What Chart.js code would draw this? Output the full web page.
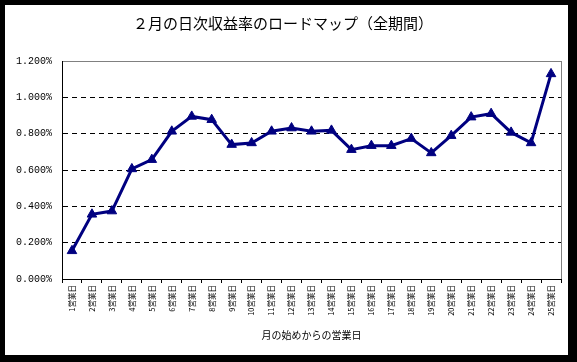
<!DOCTYPE html>
<html>
<head>
<meta charset="utf-8">
<script src="https://cdn.jsdelivr.net/npm/chart.js@4/dist/chart.umd.min.js"></script>
<style>
  html, body { margin: 0; padding: 0; background: #000; }
  canvas { display: block; }
</style>
</head>
<body>
<canvas id="chart" width="577" height="362"></canvas>
<script>
// 2月の日次収益率 (%), 営業日ごと
const DAYS = [
  '1営業日', '2営業日', '3営業日', '4営業日', '5営業日', '6営業日', '7営業日',
  '8営業日', '9営業日', '10営業日', '11営業日', '12営業日', '13営業日', '14営業日',
  '15営業日', '16営業日', '17営業日', '18営業日', '19営業日', '20営業日', '21営業日',
  '22営業日', '23営業日', '24営業日', '25営業日',
];
const RETURNS = [
  0.155, 0.356, 0.374, 0.606, 0.657, 0.813, 0.895, 0.877, 0.740, 0.749,
  0.813, 0.831, 0.813, 0.818, 0.712, 0.734, 0.734, 0.773, 0.694, 0.789,
  0.891, 0.910, 0.807, 0.749, 1.129,
];
const Y_MIN = 0;
const Y_MAX = 1.2;
const Y_STEP = 0.2;

const NAVY = '#000080';
const CJK = '"Noto Sans CJK JP", "Noto Sans", sans-serif';

// white panel on black, plus the grey plot frame
const panelPlugin = {
  id: 'panel',
  beforeDraw(chart) {
    const { ctx, chartArea: a } = chart;
    ctx.save();
    ctx.fillStyle = '#000';
    ctx.fillRect(0, 0, chart.width, chart.height);
    ctx.fillStyle = '#fff';
    ctx.fillRect(5, 5, 563, 350);
    ctx.strokeStyle = '#808080';
    ctx.lineWidth = 1;
    ctx.strokeRect(Math.round(a.left) + 0.5, Math.round(a.top) + 0.5,
      Math.round(a.right - a.left), Math.round(a.bottom - a.top));
    ctx.restore();
  },
};

new Chart(document.getElementById('chart'), {
  type: 'line',
  data: {
    labels: DAYS,
    datasets: [{
      data: RETURNS,
      borderColor: NAVY,
      backgroundColor: NAVY,
      borderWidth: 3,
      pointStyle: 'triangle',
      pointRadius: 5.5,
      pointHoverRadius: 5.5,
      pointBackgroundColor: NAVY,
      pointBorderColor: NAVY,
      pointBorderWidth: 1,
      tension: 0,
    }],
  },
  options: {
    responsive: false,
    animation: false,
    devicePixelRatio: 1,
    layout: { padding: { left: 5, right: 16, top: 5, bottom: 7 } },
    plugins: {
      legend: { display: false },
      tooltip: { enabled: false },
      title: {
        display: true,
        text: '２月の日次収益率のロードマップ（全期間）',
        color: '#000',
        font: { family: CJK, size: 15, weight: 'normal', lineHeight: 1.2 },
        padding: { top: 9, bottom: 29 },
      },
    },
    scales: {
      x: {
        type: 'category',
        offset: true,
        afterFit: (s) => { s.height = 76; },
        grid: {
          offset: true,
          drawOnChartArea: false,
          drawTicks: true,
          tickLength: 4,
          color: '#000',
          tickColor: '#000',
        },
        border: { display: true, color: '#000', width: 1 },
        ticks: {
          autoSkip: false,
          maxRotation: 90,
          minRotation: 90,
          padding: 2,
          color: '#000',
          font: { family: CJK, size: 7.5 },
        },
        title: {
          display: true,
          text: '月の始めからの営業日',
          color: '#000',
          font: { family: CJK, size: 10 },
          padding: { top: 2, bottom: 14 },
        },
      },
      y: {
        min: Y_MIN,
        max: Y_MAX,
        afterFit: (s) => { s.width = 57; },
        grid: {
          drawTicks: false,
          color: (c) => (c.tick && c.tick.value >= Y_MAX ? 'rgba(0,0,0,0)' : '#000'),
          lineWidth: 1,
        },
        border: { display: true, color: '#000', width: 1, dash: [5, 4] },
        ticks: {
          stepSize: Y_STEP,
          padding: 10,
          color: '#000',
          font: { family: '"Liberation Mono", monospace', size: 10 },
          callback: (v) => v.toFixed(3) + '%',
        },
      },
    },
  },
  plugins: [panelPlugin],
});
</script>
</body>
</html>
